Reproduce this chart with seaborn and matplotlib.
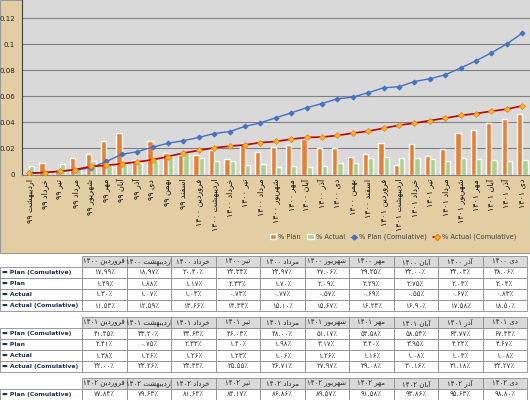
import numpy as np
import pandas as pd
import matplotlib
matplotlib.use('Agg')
import matplotlib.pyplot as plt
import seaborn as sns
from matplotlib.patches import Rectangle, Patch
from matplotlib.lines import Line2D
from matplotlib.table import Table

# ---- data ----
months = ['اردیبهشت ۹۹', 'خرداد ۹۹', 'تیر ۹۹', 'مرداد ۹۹', 'شهریور ۹۹', 'مهر ۹۹',
          'آبان ۹۹', 'آذر ۹۹', 'دی ۹۹', 'بهمن ۹۹', 'اسفند ۹۹',
          'فروردین ۱۴۰۰', 'اردیبهشت ۱۴۰۰', 'خرداد ۱۴۰۰', 'تیر ۱۴۰۰', 'مرداد ۱۴۰۰',
          'شهریور ۱۴۰۰', 'مهر ۱۴۰۰', 'آبان ۱۴۰۰', 'آذر ۱۴۰۰', 'دی ۱۴۰۰', 'بهمن ۱۴۰۰',
          'اسفند ۱۴۰۰', 'فروردین ۱۴۰۱', 'اردیبهشت ۱۴۰۱', 'خرداد ۱۴۰۱', 'تیر ۱۴۰۱',
          'مرداد ۱۴۰۱', 'شهریور ۱۴۰۱', 'مهر ۱۴۰۱', 'آبان ۱۴۰۱', 'آذر ۱۴۰۱', 'دی ۱۴۰۱']

plan = [0.0, 0.0087, 0.003, 0.0126, 0.0154, 0.0254, 0.0318, 0.0113, 0.0254, 0.0162,
        0.0151, 0.0149, 0.0188, 0.0117, 0.0233, 0.017, 0.0209, 0.0229, 0.0275, 0.0203,
        0.0204, 0.0138, 0.0154, 0.0241, 0.0075, 0.0233, 0.014, 0.0198, 0.0317, 0.034,
        0.0395, 0.0424, 0.0467]
actual = [0.0069, 0.001, 0.0077, 0.005, 0.010, 0.007, 0.008, 0.0092, 0.0108, 0.0146,
          0.0172, 0.013, 0.0107, 0.0103, 0.0073, 0.0077, 0.0057, 0.0069, 0.0055, 0.0067,
          0.0088, 0.0087, 0.0126, 0.0138, 0.0126, 0.0126, 0.0123, 0.0106, 0.0126, 0.0116,
          0.0108, 0.0103, 0.0108]
plan_cum = [0.001, 0.0015, 0.0025, 0.0035, 0.005, 0.010, 0.0155, 0.0175, 0.021, 0.024,
            0.026, 0.0285, 0.0315, 0.033, 0.037, 0.0397, 0.0436, 0.0474, 0.0513, 0.0546,
            0.0582, 0.0595, 0.0629, 0.0667, 0.0675, 0.0715, 0.0736, 0.0767, 0.0819, 0.0875,
            0.0936, 0.1005, 0.1087]
actual_cum = [0.001, 0.0015, 0.0025, 0.0038, 0.0062, 0.007, 0.0082, 0.0097, 0.0113, 0.0138,
              0.0165, 0.0185, 0.0205, 0.0218, 0.0228, 0.0245, 0.0254, 0.0272, 0.0285, 0.0288,
              0.03, 0.0318, 0.0333, 0.0356, 0.0379, 0.0395, 0.0415, 0.0433, 0.0454, 0.0469,
              0.0487, 0.0503, 0.0528]

row_labels = ['Plan (Comulative)', 'Plan', 'Actual', 'Actual (Comulative)']

t1_head = ['فروردین ۱۴۰۰', 'اردیبهشت ۱۴۰۰', 'خرداد ۱۴۰۰', 'تیر ۱۴۰۰', 'مرداد ۱۴۰۰',
           'شهریور ۱۴۰۰', 'مهر ۱۴۰۰', 'آبان ۱۴۰۰', 'آذر ۱۴۰۰', 'دی ۱۴۰۰']
t1_plan_cum = ['۱۷.۹۹٪', '۱۸.۹۷٪', '۲۰.۴۰٪', '۲۲.۳۳٪', '۲۴.۹۷٪', '۲۷.۰۶٪', '۲۹.۲۵٪', '۳۲.۰۰٪', '۳۴.۰۳٪', '۳۸.۰۶٪']
t1_plan = ['۱.۴۹٪', '۱.۸۸٪', '۱.۱۷٪', '۲.۳۳٪', '۱.۷۰٪', '۲.۰۹٪', '۲.۲۹٪', '۲.۷۵٪', '۲.۰۳٪', '۲.۰۴٪']
t1_actual = ['۱.۳۰٪', '۱.۰۷٪', '۱.۰۳٪', '۰.۷۳٪', '۰.۷۷٪', '۰.۵۷٪', '۰.۶۹٪', '۰.۵۵٪', '۰.۶۷٪', '۰.۸۳٪']
t1_actual_cum = ['۱۱.۵۳٪', '۱۲.۵۹٪', '۱۳.۶۶٪', '۱۴.۳۳٪', '۱۵.۱۰٪', '۱۵.۶۷٪', '۱۶.۲۴٪', '۱۶.۹۰٪', '۱۷.۵۸٪', '۱۸.۵۰٪']

t2_head = ['فروردین ۱۴۰۱', 'اردیبهشت ۱۴۰۱', 'خرداد ۱۴۰۱', 'تیر ۱۴۰۱', 'مرداد ۱۴۰۱',
           'شهریور ۱۴۰۱', 'مهر ۱۴۰۱', 'آبان ۱۴۰۱', 'آذر ۱۴۰۱', 'دی ۱۴۰۱']
t2_plan_cum = ['۴۱.۴۵٪', '۴۳.۲۰٪', '۴۴.۶۳٪', '۴۶.۰۳٪', '۴۸.۰۰٪', '۵۱.۱۷٪', '۵۴.۵۸٪', '۵۸.۵۳٪', '۶۳.۷۷٪', '۶۷.۴۴٪']
t2_plan = ['۲.۴۱٪', '۰.۷۵٪', '۲.۳۳٪', '۱.۴۰٪', '۱.۹۸٪', '۳.۱۷٪', '۳.۴۰٪', '۳.۹۵٪', '۴.۲۴٪', '۴.۶۷٪']
t2_actual = ['۱.۳۸٪', '۱.۲۶٪', '۱.۲۶٪', '۱.۲۳٪', '۱.۰۶٪', '۱.۲۶٪', '۱.۱۶٪', '۱.۰۸٪', '۱.۰۳٪', '۱.۰۸٪']
t2_actual_cum = ['۲۲.۰۰٪', '۲۳.۲۶٪', '۲۴.۴۴٪', '۲۵.۵۵٪', '۲۶.۷۱٪', '۲۷.۹۷٪', '۲۹.۰۸٪', '۳۰.۱۶٪', '۳۱.۱۸٪', '۳۲.۲۷٪']

t3_head = ['فروردین ۱۴۰۲', 'اردیبهشت ۱۴۰۲', 'خرداد ۱۴۰۲', 'تیر ۱۴۰۲', 'مرداد ۱۴۰۲',
           'شهریور ۱۴۰۲', 'مهر ۱۴۰۲', 'آبان ۱۴۰۲', 'آذر ۱۴۰۲', 'دی ۱۴۰۲']
t3_plan_cum = ['۷۷.۸۴٪', '۷۹.۶۳٪', '۸۱.۶۴٪', '۸۴.۱۷٪', '۸۶.۸۶٪', '۸۹.۵۷٪', '۹۱.۵۸٪', '۹۳.۸۶٪', '۹۵.۶۳٪', '۹۸.۸۰٪']

ORANGE = '#ed7d31'
GREEN = '#a9d18e'
BLUE = '#4472c4'
RED = '#c00000'

# ---- simple persian shaping (no bidi lib available) ----
FORMS = {
    'ا': ('\uFE8D', '\uFE8E', None, None),
    'آ': ('\uFE81', '\uFE82', None, None),
    'ب': ('\uFE8F', '\uFE90', '\uFE91', '\uFE92'),
    'ت': ('\uFE95', '\uFE96', '\uFE97', '\uFE98'),
    'خ': ('\uFEA5', '\uFEA6', '\uFEA7', '\uFEA8'),
    'د': ('\uFEA9', '\uFEAA', None, None),
    'ذ': ('\uFEAB', '\uFEAC', None, None),
    'ر': ('\uFEAD', '\uFEAE', None, None),
    'س': ('\uFEB1', '\uFEB2', '\uFEB3', '\uFEB4'),
    'ش': ('\uFEB5', '\uFEB6', '\uFEB7', '\uFEB8'),
    'ف': ('\uFED1', '\uFED2', '\uFED3', '\uFED4'),
    'م': ('\uFEE1', '\uFEE2', '\uFEE3', '\uFEE4'),
    'ن': ('\uFEE5', '\uFEE6', '\uFEE7', '\uFEE8'),
    'ه': ('\uFEE9', '\uFEEA', '\uFEEB', '\uFEEC'),
    'و': ('\uFEED', '\uFEEE', None, None),
    'ی': ('\uFEEF', '\uFEF0', '\uFEF3', '\uFEF4'),
}


def shape(word):
    out = []
    for i, ch in enumerate(word):
        f = FORMS[ch]
        prev = word[i - 1] if i > 0 else None
        nxt = word[i + 1] if i < len(word) - 1 else None
        jp = prev in FORMS and FORMS[prev][2] is not None
        jn = nxt in FORMS and f[2] is not None
        if jp and jn:
            out.append(f[3])
        elif jp:
            out.append(f[1])
        elif jn:
            out.append(f[2])
        else:
            out.append(f[0])
    return ''.join(reversed(out))


def rtl(label):
    word, num = label.rsplit(' ', 1)
    return num + ' ' + shape(word)


sns.set_style('white')
plt.rcParams['font.family'] = ['DejaVu Sans']

W, H = 530, 400
fig = plt.figure(figsize=(5.3, 4.0), dpi=100)
fig.patch.set_facecolor('white')

# chart area background
chart_bottom = 253
fig.patches.append(Rectangle((0, 1 - chart_bottom / H), 1, chart_bottom / H,
                             transform=fig.transFigure, facecolor='#e2cea2',
                             edgecolor='#9a9a9a', lw=0.8, zorder=-10))

ax = fig.add_axes([22 / W, 1 - 174.5 / H, 1 - 22 / W, 174.5 / H])
ax.set_facecolor('#d9d9d9')

df = pd.DataFrame({
    'month': months * 2,
    'value': plan + actual,
    'series': ['% Plan'] * len(months) + ['% Actual'] * len(months),
})
sns.barplot(data=df, x='month', y='value', hue='series', order=months,
            hue_order=['% Plan', '% Actual'], palette=[ORANGE, GREEN],
            width=0.68, saturation=1, legend=False, ax=ax, zorder=2)

pos = np.arange(len(months))
sns.lineplot(x=pos, y=plan_cum, ax=ax, color=BLUE, lw=1, marker='D', markersize=2.5,
             markeredgecolor=BLUE, legend=False, zorder=3)
sns.lineplot(x=pos, y=actual_cum, ax=ax, color=RED, lw=1.2, marker='D', markersize=3,
             markerfacecolor='#ffc000', markeredgecolor=ORANGE, markeredgewidth=0.6,
             legend=False, zorder=4)

ax.set_xlim(-0.47, len(months) - 0.5)
ax.set_ylim(0, 0.1342)
ax.set_yticks([0, 0.02, 0.04, 0.06, 0.08, 0.1, 0.12])
ax.set_yticklabels(['0', '0.02', '0.04', '0.06', '0.08', '0.1', '0.12'])
ax.set_xticks(pos)
ax.set_xticklabels([rtl(m) for m in months], rotation=90, va='top', ha='center')
ax.tick_params(axis='y', length=0, pad=5, labelsize=5, labelcolor='#222222')
ax.tick_params(axis='x', length=0, pad=3, labelsize=5.8, labelcolor='#111111')
ax.set_xlabel('')
ax.set_ylabel('')
ax.yaxis.grid(True, color='#7f7f7f', lw=0.8)
ax.set_axisbelow(True)
for s in ['top', 'right']:
    ax.spines[s].set_visible(False)
ax.spines['left'].set_color('#404040')
ax.spines['left'].set_linewidth(0.8)
ax.spines['bottom'].set_color('#7f7f7f')
ax.spines['bottom'].set_linewidth(0.8)

handles = [Patch(facecolor=ORANGE), Patch(facecolor=GREEN),
           Line2D([], [], color=BLUE, lw=1, marker='D', markersize=2.5),
           Line2D([], [], color=RED, lw=1.2, marker='D', markersize=3,
                  markerfacecolor='#ffc000', markeredgecolor=ORANGE)]
fig.legend(handles, ['% Plan', '% Actual', '% Plan (Comulative)', '% Actual (Comulative)'],
           loc='center', bbox_to_anchor=(393 / W, 1 - 237 / H), ncol=4, frameon=False,
           fontsize=4.8, handlelength=1.0, handleheight=0.6, handletextpad=0.3,
           columnspacing=0.9, labelcolor='#404040')

# ---- data tables under the chart ----
ROW_H = 11
GAP = 6
col_w = [82] + [44.5] * 10


def draw_table(top, headers, rows):
    n = len(rows) + 1
    tax = fig.add_axes([0, 1 - (top + ROW_H * n) / H, sum(col_w) / W, ROW_H * n / H])
    tax.axis('off')
    tbl = Table(tax, bbox=[0, 0, 1, 1])
    for c, w in enumerate(col_w):
        if c == 0:
            cell = tbl.add_cell(0, c, width=w, height=1, text='')
            cell.visible_edges = 'open'
        else:
            cell = tbl.add_cell(0, c, width=w, height=1, text=rtl(headers[c - 1]),
                                loc='center', facecolor='#d9d9d9')
            cell.get_text().set_color('#222222')
    for r, (lab, vals) in enumerate(rows, start=1):
        cell = tbl.add_cell(r, 0, width=col_w[0], height=1, text='▬ ' + lab, loc='left')
        cell.PAD = 0.03
        cell.get_text().set_color('#1f3050')
        cell.get_text().set_fontweight('bold')
        for c, v in enumerate(vals, start=1):
            cell = tbl.add_cell(r, c, width=col_w[c], height=1, text=v, loc='center')
            cell.get_text().set_color('#333333')
    for cell in tbl.get_celld().values():
        cell.set_edgecolor('#8c8c8c')
        cell.set_linewidth(0.6)
    tbl.auto_set_font_size(False)
    tbl.set_fontsize(5)
    for (r, c), cell in tbl.get_celld().items():
        if c == 0:
            cell.get_text().set_fontsize(4.4)
    tax.add_table(tbl)


t1_top = 256
draw_table(t1_top, t1_head, list(zip(row_labels, [t1_plan_cum, t1_plan, t1_actual, t1_actual_cum])))
t2_top = t1_top + 5 * ROW_H + GAP
draw_table(t2_top, t2_head, list(zip(row_labels, [t2_plan_cum, t2_plan, t2_actual, t2_actual_cum])))
t3_top = t2_top + 5 * ROW_H + GAP
draw_table(t3_top, t3_head, [(row_labels[0], t3_plan_cum)])

fig.savefig('out.png', dpi=100, facecolor=fig.get_facecolor())
